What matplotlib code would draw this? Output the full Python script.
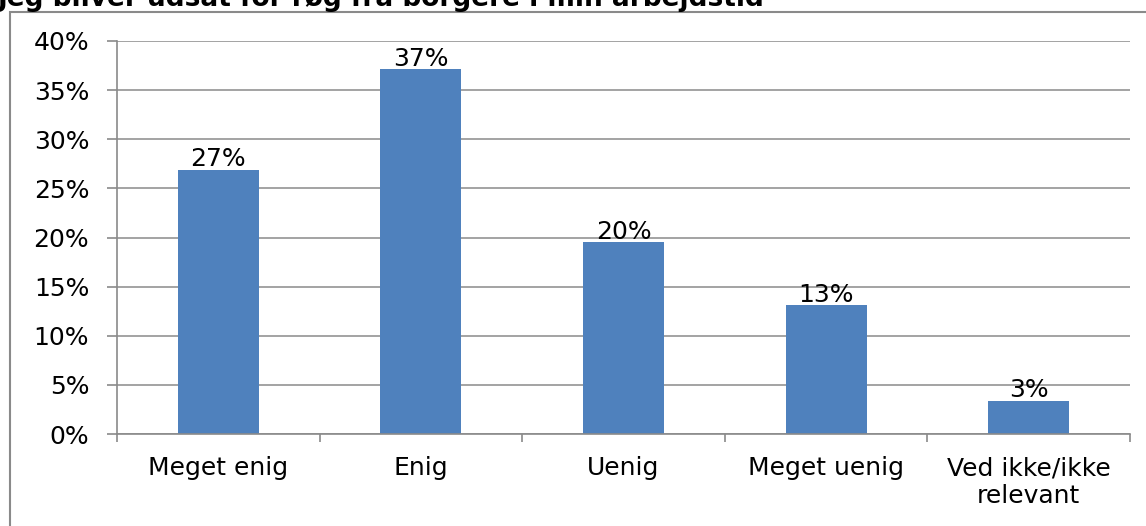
import matplotlib.pyplot as plt
from matplotlib.patches import Rectangle
from matplotlib.ticker import FuncFormatter, FixedLocator
import numpy as np

# data
categories = ['Meget enig', 'Enig', 'Uenig', 'Meget uenig', 'Ved ikke/ikke\nrelevant']
shares = [0.269, 0.371, 0.195, 0.131, 0.034]
value_labels = ['27%', '37%', '20%', '13%', '3%']
title = 'Jeg bliver udsat for røg fra borgere i min arbejdstid'

plt.rcParams['font.family'] = ['DejaVu Sans']
FS = 18
GREY = '#8a8a8a'

fig = plt.figure(figsize=(11.46, 5.26), dpi=100)
ax = fig.add_axes([117 / 1146, 1 - 434 / 526, 1013 / 1146, 393 / 526])

x = np.arange(len(categories))
bars = ax.bar(x, shares, width=0.4, color='#4F81BD', zorder=3)

for b, lab in zip(bars, value_labels):
    ax.annotate(lab, (b.get_x() + b.get_width() / 2, b.get_height()),
                xytext=(0, -1), textcoords='offset points',
                ha='center', va='bottom', fontsize=FS, color='black', zorder=4)

ax.set_xlim(-0.5, len(categories) - 0.5)
ax.set_ylim(0, 0.40)
ax.set_yticks(np.arange(0, 0.401, 0.05))
ax.yaxis.set_major_formatter(FuncFormatter(lambda v, p: f'{v * 100:.0f}%'))
ax.tick_params(axis='y', labelsize=FS, length=7, width=1.2, color=GREY, pad=13)

# category labels in the middle, ticks at the boundaries
ax.set_xticks(x)
ax.set_xticklabels(categories, fontsize=FS, linespacing=1.2)
ax.tick_params(axis='x', length=0, pad=16)
ax.xaxis.set_minor_locator(FixedLocator(np.arange(-0.5, len(categories), 1.0)))
ax.tick_params(axis='x', which='minor', length=6, width=1.2, color=GREY)

ax.grid(axis='y', color=GREY, linewidth=1.1, zorder=0)
for s in ['top', 'right']:
    ax.spines[s].set_visible(False)
for s in ['left', 'bottom']:
    ax.spines[s].set_color(GREY)
    ax.spines[s].set_linewidth(1.2)
ax.spines['bottom'].set_zorder(5)

# outer chart border, running off the right and bottom
top = 1 - 12 / 526
fig.patches.append(Rectangle((10 / 1146, -0.2), 1.2, 0.2 + top,
                             transform=fig.transFigure, fill=False,
                             edgecolor=GREY, linewidth=1.5))

# title sits partly above the picture, as in the original
fig.text(-2 / 1146, 1 - 6 / 526, title, fontsize=19, fontweight='bold',
         ha='left', va='baseline')

fig.savefig('out.png', dpi=100)
